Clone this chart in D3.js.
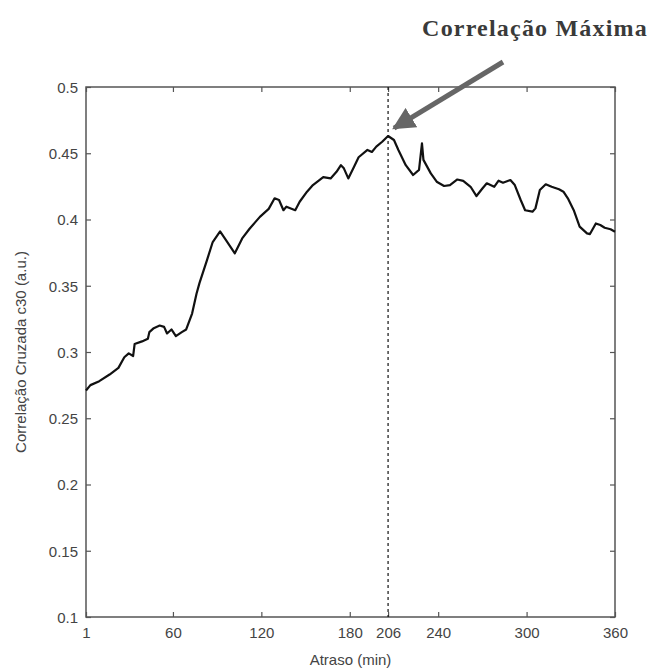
<!DOCTYPE html>
<html>
<head>
<meta charset="utf-8">
<script src="https://cdn.jsdelivr.net/npm/d3@7"></script>
<style>
  html, body { margin: 0; padding: 0; background: #fff; }
  svg { display: block; }
</style>
</head>
<body>
<svg id="chart" width="650" height="671"></svg>
<script>
// Cross-correlation c30 as a function of lag (minutes)
const lags = [1, 4, 10, 17, 23, 27, 30, 33, 34, 39, 43, 44, 47, 51, 54, 56, 59, 62, 66, 69,
  73, 76, 78, 83, 87, 92, 96, 102, 107, 112, 119, 125, 129, 132, 135, 137, 143, 146, 151, 155,
  162, 167, 171, 174, 176, 179, 183, 186, 192, 195, 198, 202, 206, 210, 213, 218, 223, 227, 229, 230,
  235, 239, 244, 248, 253, 257, 262, 266, 270, 273, 278, 281, 284, 289, 292, 296, 299, 304, 306, 309,
  313, 317, 322, 325, 328, 332, 336, 341, 343, 347, 350, 353, 357, 360];
const corr = [0.271, 0.275, 0.278, 0.283, 0.288, 0.296, 0.299, 0.297, 0.306, 0.308, 0.310, 0.315, 0.318, 0.320, 0.319, 0.314, 0.317, 0.312, 0.315, 0.317,
  0.329, 0.344, 0.352, 0.369, 0.383, 0.391, 0.3845, 0.3745, 0.3857, 0.393, 0.402, 0.408, 0.416, 0.4147, 0.407, 0.4097, 0.407, 0.4134, 0.421, 0.426,
  0.432, 0.431, 0.436, 0.441, 0.4386, 0.431, 0.440, 0.447, 0.4525, 0.451, 0.455, 0.4587, 0.463, 0.460, 0.4525, 0.441, 0.4336, 0.4374, 0.4575, 0.445,
  0.4348, 0.4285, 0.4253, 0.426, 0.4302, 0.4292, 0.4247, 0.4177, 0.4234, 0.4273, 0.4247, 0.4293, 0.4278, 0.4298, 0.426, 0.4147, 0.407, 0.4059, 0.4084, 0.4223,
  0.4266, 0.4247, 0.4228, 0.421, 0.416, 0.407, 0.3946, 0.3895, 0.389, 0.397, 0.3958, 0.3938, 0.3926, 0.3908];

const xTicks = [1, 60, 120, 180, 206, 240, 300, 360];
const yTicks = [0.1, 0.15, 0.2, 0.25, 0.3, 0.35, 0.4, 0.45, 0.5];
const maxLag = 206;
const xLabel = "Atraso (min)";
const yLabel = "Correlação Cruzada c30 (a.u.)";
const annotation = "Correlação Máxima";

const margin = { left: 86, right: 35, top: 87, bottom: 54 };
const W = 650, H = 671;
const iw = W - margin.left - margin.right;
const ih = H - margin.top - margin.bottom;

const svg = d3.select("#chart");
const g = svg.append("g").attr("transform", `translate(${margin.left},${margin.top})`);

const x = d3.scaleLinear().domain([1, 360]).range([0, iw]);
const y = d3.scaleLinear().domain([0.1, 0.5]).range([ih, 0]);

const axisColor = "#555";
const tickLen = 5;

// frame
g.append("rect")
  .attr("x", 0).attr("y", 0).attr("width", iw).attr("height", ih)
  .attr("fill", "none").attr("stroke", axisColor).attr("stroke-width", 1.5);

// bottom axis with labels, ticks pointing inward
const xAxis = g.append("g")
  .attr("transform", `translate(0,${ih})`)
  .call(d3.axisBottom(x).tickValues(xTicks).tickFormat(d3.format("d")).tickSize(-tickLen).tickPadding(10));
// top ticks
const xTop = g.append("g")
  .call(d3.axisTop(x).tickValues(xTicks).tickFormat("").tickSize(-tickLen));
// left axis with labels
const yAxis = g.append("g")
  .call(d3.axisLeft(y).tickValues(yTicks).tickFormat(d => String(+d.toFixed(2))).tickSize(-tickLen).tickPadding(8));
// right ticks
const yRight = g.append("g")
  .attr("transform", `translate(${iw},0)`)
  .call(d3.axisRight(y).tickValues(yTicks).tickFormat("").tickSize(-tickLen));

[xAxis, xTop, yAxis, yRight].forEach(a => {
  a.select(".domain").remove();
  a.selectAll(".tick line").attr("stroke", axisColor).attr("stroke-width", 1.2);
  a.selectAll(".tick text")
    .attr("fill", "#444")
    .style("font-family", "'Liberation Sans', Arial, sans-serif")
    .style("font-size", "15px");
});
yAxis.selectAll(".tick text").attr("dy", "0.35em");

// dashed marker at the lag of maximum correlation
g.append("line")
  .attr("x1", x(maxLag)).attr("x2", x(maxLag))
  .attr("y1", 0).attr("y2", ih)
  .attr("stroke", "#111").attr("stroke-width", 1.2)
  .attr("stroke-dasharray", "3,3");

// correlation curve
const pts = lags.map((l, i) => [l, corr[i]]);
g.append("path")
  .datum(pts)
  .attr("fill", "none")
  .attr("stroke", "#111")
  .attr("stroke-width", 2.2)
  .attr("stroke-linejoin", "round")
  .attr("d", d3.line().x(d => x(d[0])).y(d => y(d[1])));

// axis titles
svg.append("text")
  .attr("x", margin.left + iw / 2).attr("y", 665)
  .attr("text-anchor", "middle")
  .attr("fill", "#444")
  .style("font-family", "'Liberation Sans', Arial, sans-serif")
  .style("font-size", "15px")
  .text(xLabel);

svg.append("text")
  .attr("transform", `translate(26,${margin.top + ih / 2}) rotate(-90)`)
  .attr("text-anchor", "middle")
  .attr("fill", "#444")
  .style("font-family", "'Liberation Sans', Arial, sans-serif")
  .style("font-size", "15px")
  .text(yLabel);

// annotation with arrow pointing to the peak
const defs = svg.append("defs");
defs.append("marker")
  .attr("id", "arrowhead")
  .attr("viewBox", "0 0 10 10")
  .attr("refX", 9).attr("refY", 5)
  .attr("markerWidth", 4.5).attr("markerHeight", 4.5)
  .attr("markerUnits", "strokeWidth")
  .attr("orient", "auto")
  .append("path").attr("d", "M0,0 L10,5 L0,10 Z").attr("fill", "#666");

const peakIdx = lags.indexOf(maxLag);
const tipX = margin.left + x(maxLag) + 6;
const tipY = margin.top + y(corr[peakIdx]) - 8;
svg.append("line")
  .attr("x1", 503).attr("y1", 62)
  .attr("x2", tipX).attr("y2", tipY)
  .attr("stroke", "#666").attr("stroke-width", 5)
  .attr("marker-end", "url(#arrowhead)");

svg.append("text")
  .attr("x", 648).attr("y", 36)
  .attr("text-anchor", "end")
  .attr("fill", "#3a3a3a")
  .attr("letter-spacing", "1.2px")
  .style("font-family", "'Liberation Serif', 'Times New Roman', serif")
  .style("font-weight", "bold")
  .style("font-size", "24px")
  .text(annotation);
</script>
</body>
</html>
